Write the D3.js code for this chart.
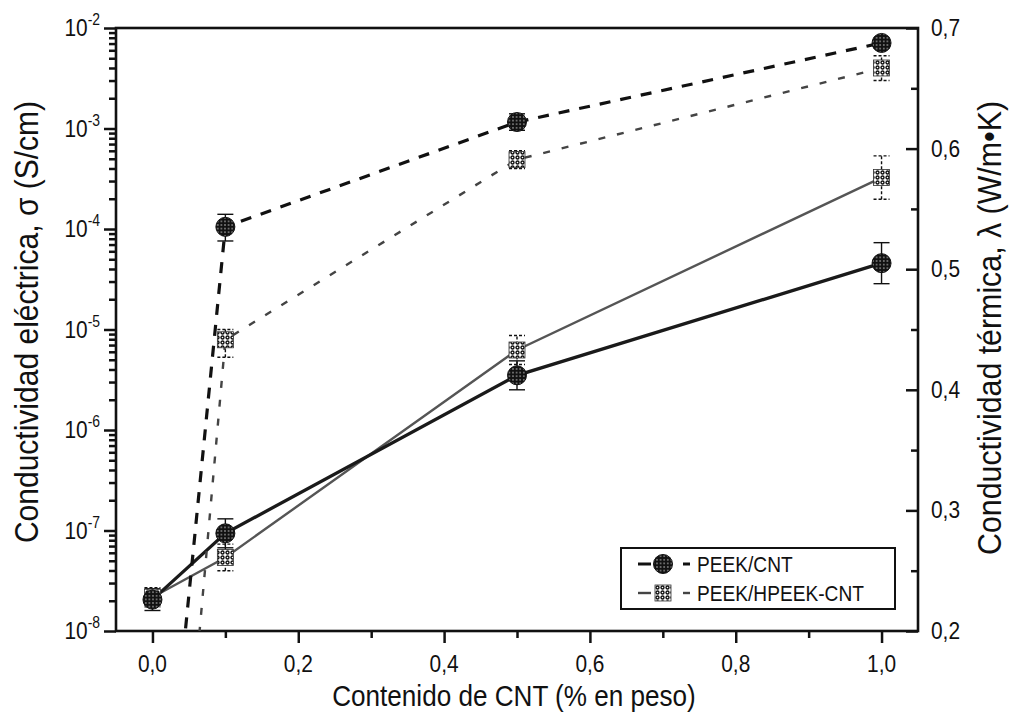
<!DOCTYPE html>
<html><head><meta charset="utf-8">
<script src="https://cdn.jsdelivr.net/npm/d3@7"></script>
<style>body{margin:0;background:#fff;} text{font-family:"Liberation Sans",Arial,sans-serif;fill:#111;}</style>
</head><body><svg id="c" width="1011" height="727"></svg>
<script>
// ---- data ----
const cntContent = [0.0, 0.1, 0.5, 1.0];
const xTicks = [0, 0.2, 0.4, 0.6, 0.8, 1.0];
const xMinorTicks = [0.1, 0.3, 0.5, 0.7, 0.9];
const elecPEEK = [5e-12, 1.05e-4, 1.16e-3, 7.1e-3];
const elecPEEKLow = [null, 7.6e-5, 9.6e-4, 6.3e-3];
const elecPEEKHigh = [null, 1.4e-4, 1.4e-3, 8.0e-3];
const elecHPEEK = [5e-14, 7.9e-6, 4.9e-4, 4.0e-3];
const elecHPEEKLow = [null, 5.3e-6, 4.0e-4, 3.0e-3];
const elecHPEEKHigh = [null, 1.0e-5, 6.0e-4, 5.3e-3];
const thermPEEK = [0.226, 0.281, 0.412, 0.505];
const thermPEEKErr = [0.009, 0.012, 0.012, 0.017];
const thermHPEEK = [0.228, 0.261, 0.433, 0.576];
const thermHPEEKErr = [0.008, 0.011, 0.012, 0.018];
const yLeftExponents = [-8, -7, -6, -5, -4, -3, -2];
const yRightTicks = [0.2, 0.3, 0.4, 0.5, 0.6, 0.7];
const yRightMinor = [0.25, 0.35, 0.45, 0.55, 0.65];
const seriesNames = ["PEEK/CNT", "PEEK/HPEEK-CNT"];
const xTitle = "Contenido de CNT (% en peso)";
const yLeftTitle = "Conductividad eléctrica, σ (S/cm)";
const yRightTitle = "Conductividad térmica, λ (W/m•K)";

// ---- layout ----
const L = 116, R = 918, T = 28, B = 631;
const SX = 0.87; // narrow look of the lettering
const svg = d3.select("#c");
const x = d3.scaleLinear().domain([-0.05, 1.05]).range([L, R]);
const yL = d3.scaleLog().domain([1e-8, 1e-2]).range([B, T]);
const yR = d3.scaleLinear().domain([0.2, 0.7]).range([B, T]);

const defs = svg.append("defs");
const pd = defs.append("pattern").attr("id", "dots").attr("patternUnits", "userSpaceOnUse")
  .attr("width", 3.6).attr("height", 3.6);
pd.append("rect").attr("width", 3.6).attr("height", 3.6).attr("fill", "#111");
pd.append("circle").attr("cx", 1.8).attr("cy", 1.8).attr("r", 0.75).attr("fill", "#ddd");
const pc = defs.append("pattern").attr("id", "checker").attr("patternUnits", "userSpaceOnUse")
  .attr("width", 5).attr("height", 5);
pc.append("rect").attr("width", 5).attr("height", 5).attr("fill", "#fff");
pc.append("circle").attr("cx", 2.5).attr("cy", 2.5).attr("r", 1.5).attr("fill", "none")
  .attr("stroke", "#111").attr("stroke-width", 1.4);
defs.append("clipPath").attr("id", "clip").append("rect")
  .attr("x", L).attr("y", T).attr("width", R - L).attr("height", B - T);

function txt(g, tx, ty, s, size, anchor, rot, sx) {
  return g.append("text")
    .attr("transform", `translate(${tx},${ty})${rot ? " rotate(-90)" : ""} scale(${sx || SX},1)`)
    .attr("text-anchor", anchor).attr("font-size", size).text(s);
}

// ---- axes (ticks) ----
const fmt = d => d.toFixed(1).replace(".", ",");
svg.append("g").attr("transform", `translate(0,${B})`)
  .call(d3.axisBottom(x).tickValues(xTicks).tickFormat("").tickSize(12));
svg.append("g").attr("transform", `translate(0,${B})`)
  .call(d3.axisBottom(x).tickValues(xMinorTicks).tickFormat("").tickSize(7));
svg.append("g").attr("transform", `translate(${L},0)`)
  .call(d3.axisLeft(yL).tickValues(yLeftExponents.map(e => Math.pow(10, e))).tickFormat("").tickSize(12));
const minorL = [];
yLeftExponents.slice(0, -1).forEach(e => { for (let k = 2; k <= 9; k++) minorL.push(k * Math.pow(10, e)); });
svg.append("g").attr("transform", `translate(${L},0)`)
  .call(d3.axisLeft(yL).tickValues(minorL).tickFormat("").tickSize(7));
svg.append("g").attr("transform", `translate(${R},0)`)
  .call(d3.axisRight(yR).tickValues(yRightTicks).tickFormat("").tickSizeInner(-12).tickSizeOuter(0));
svg.append("g").attr("transform", `translate(${R},0)`)
  .call(d3.axisRight(yR).tickValues(yRightMinor).tickFormat("").tickSizeInner(-7).tickSizeOuter(0));
svg.selectAll(".domain").remove();
svg.selectAll(".tick line").attr("stroke", "#111").attr("stroke-width", 2.5);

// tick labels
const labs = svg.append("g");
xTicks.forEach(v => txt(labs, x(v), 672, fmt(v), 24, "middle"));
yRightTicks.forEach(v => txt(labs, 931, yR(v) + 8, fmt(v), 24, "start"));
yLeftExponents.forEach(e => {
  const t = txt(labs, 100, yL(Math.pow(10, e)) + 8, "", 24, "end");
  t.append("tspan").text("10");
  t.append("tspan").attr("dy", -11).attr("font-size", 16).text("-" + Math.abs(e));
});

// frame
svg.append("rect").attr("x", L).attr("y", T).attr("width", R - L).attr("height", B - T)
  .attr("fill", "none").attr("stroke", "#111").attr("stroke-width", 2.6);

// titles
txt(svg, (L + R) / 2 - 3, 706, xTitle, 30, "middle");
txt(svg, 38, 322, yLeftTitle, 33, "middle", true, 0.91);
txt(svg, 1001, 328, yRightTitle, 33, "middle", true, 0.92);

// ---- series ----
const plot = svg.append("g").attr("clip-path", "url(#clip)");
const lineE = d3.line().x((d, i) => x(cntContent[i])).y(d => yL(d));
const lineT = d3.line().x((d, i) => x(cntContent[i])).y(d => yR(d));

plot.append("path").datum(thermHPEEK).attr("d", lineT).attr("fill", "none")
  .attr("stroke", "#555").attr("stroke-width", 2.4);
plot.append("path").datum(thermPEEK).attr("d", lineT).attr("fill", "none")
  .attr("stroke", "#1a1a1a").attr("stroke-width", 3.3);
plot.append("path").datum(elecHPEEK).attr("d", lineE).attr("fill", "none")
  .attr("stroke", "#444").attr("stroke-width", 2.4).attr("stroke-dasharray", "7,12");
plot.append("path").datum(elecPEEK).attr("d", lineE).attr("fill", "none")
  .attr("stroke", "#111").attr("stroke-width", 3.2).attr("stroke-dasharray", "11,10");

function errBar(g, xv, y1, y2, dashed) {
  const a = g.append("g").attr("stroke", "#111").attr("stroke-width", 1.4)
    .attr("stroke-dasharray", dashed ? "3,2" : null);
  a.append("line").attr("x1", xv).attr("x2", xv).attr("y1", y1).attr("y2", y2);
  a.append("line").attr("x1", xv - 8).attr("x2", xv + 8).attr("y1", y1).attr("y2", y1);
  a.append("line").attr("x1", xv - 8).attr("x2", xv + 8).attr("y1", y2).attr("y2", y2);
}
cntContent.forEach((c, i) => {
  const xv = x(c);
  if (elecPEEKLow[i] != null) errBar(plot, xv, yL(elecPEEKLow[i]), yL(elecPEEKHigh[i]), false);
  if (elecHPEEKLow[i] != null) errBar(plot, xv, yL(elecHPEEKLow[i]), yL(elecHPEEKHigh[i]), true);
  errBar(plot, xv, yR(thermPEEK[i] - thermPEEKErr[i]), yR(thermPEEK[i] + thermPEEKErr[i]), false);
  errBar(plot, xv, yR(thermHPEEK[i] - thermHPEEKErr[i]), yR(thermHPEEK[i] + thermHPEEKErr[i]), true);
});

function sq(g, cx, cy) {
  g.append("rect").attr("x", cx - 8).attr("y", cy - 8).attr("width", 16).attr("height", 16)
    .attr("fill", "url(#checker)").attr("stroke", "#333").attr("stroke-width", 0.8);
}
function circ(g, cx, cy) {
  g.append("circle").attr("cx", cx).attr("cy", cy).attr("r", 9.5)
    .attr("fill", "url(#dots)").attr("stroke", "#111").attr("stroke-width", 1);
}
cntContent.forEach((c, i) => {
  const xv = x(c);
  if (elecHPEEK[i] >= 1e-8) sq(plot, xv, yL(elecHPEEK[i]));
  if (elecPEEK[i] >= 1e-8) circ(plot, xv, yL(elecPEEK[i]));
  sq(plot, xv, yR(thermHPEEK[i]));
  circ(plot, xv, yR(thermPEEK[i]));
});

// ---- legend ----
const lg = svg.append("g");
lg.append("rect").attr("x", 621).attr("y", 548).attr("width", 274).attr("height", 61)
  .attr("fill", "#fff").attr("stroke", "#111").attr("stroke-width", 2);
const rows = [564, 593];
seriesNames.forEach((n, i) => {
  const y = rows[i];
  [[638, 651], [683, 690]].forEach(([a, b]) =>
    lg.append("line").attr("x1", a).attr("x2", b).attr("y1", y).attr("y2", y)
      .attr("stroke", i === 0 ? "#111" : "#444").attr("stroke-width", i === 0 ? 3 : 2.4));
  if (i === 0) circ(lg, 663, y); else sq(lg, 663, y);
  txt(lg, 697, y + 8, n, 22, "start");
});
</script></body></html>
